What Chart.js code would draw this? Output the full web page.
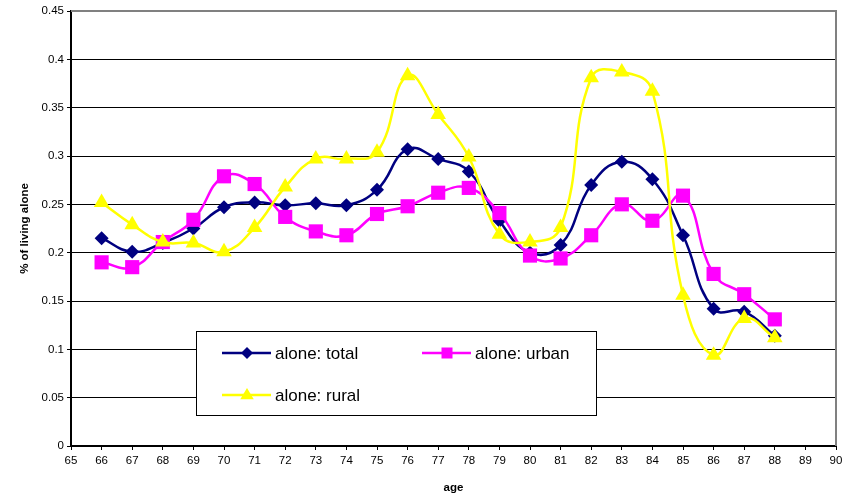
<!DOCTYPE html>
<html>
<head>
<meta charset="utf-8">
<script src="https://cdn.jsdelivr.net/npm/chart.js@4/dist/chart.umd.min.js"></script>
<style>
  html, body { margin: 0; padding: 0; background: #ffffff; }
  #wrap { width: 861px; height: 497px; position: relative; }
</style>
</head>
<body>
<div id="wrap"><canvas id="c" width="861" height="497"></canvas></div>
<script>
// Share of older people living alone, by age
const ages = [66, 67, 68, 69, 70, 71, 72, 73, 74, 75, 76, 77, 78, 79, 80, 81, 82, 83, 84, 85, 86, 87, 88];
const aloneTotal = [0.215, 0.201, 0.210, 0.225, 0.247, 0.252, 0.249, 0.251, 0.249, 0.265, 0.307, 0.297, 0.284,
                    0.233, 0.200, 0.208, 0.270, 0.294, 0.276, 0.218, 0.142, 0.139, 0.114];
const aloneUrban = [0.190, 0.185, 0.211, 0.234, 0.279, 0.271, 0.237, 0.222, 0.218, 0.240, 0.248, 0.262, 0.267,
                    0.241, 0.197, 0.194, 0.218, 0.250, 0.233, 0.259, 0.178, 0.157, 0.131];
const aloneRural = [0.252, 0.229, 0.211, 0.210, 0.201, 0.226, 0.268, 0.297, 0.297, 0.304, 0.383, 0.343, 0.299,
                    0.219, 0.211, 0.226, 0.381, 0.387, 0.367, 0.156, 0.094, 0.132, 0.112];
const seriesNames = ['alone: total', 'alone: urban', 'alone: rural'];
const yTickLabels = ['0', '0.05', '0.1', '0.15', '0.2', '0.25', '0.3', '0.35', '0.4', '0.45'];
const xTickLabels = ['65', '66', '67', '68', '69', '70', '71', '72', '73', '74', '75', '76', '77',
                     '78', '79', '80', '81', '82', '83', '84', '85', '86', '87', '88', '89', '90'];

const NAVY = '#000080', MAGENTA = '#FF00FF', YELLOW = '#FFFF00';
const FONT = 'Arial, "Liberation Sans", sans-serif';

const toPoints = vals => vals.map((v, i) => ({ x: ages[i], y: v }));

function marker(ctx, style, x, y, r, color) {
  ctx.save();
  ctx.fillStyle = color;
  ctx.beginPath();
  if (style === 'rectRot') {
    ctx.moveTo(x, y - r); ctx.lineTo(x + r, y); ctx.lineTo(x, y + r); ctx.lineTo(x - r, y);
  } else if (style === 'rect') {
    ctx.rect(x - r, y - r, 2 * r, 2 * r);
  } else {
    const h = r * 1.5;
    ctx.moveTo(x, y - h * 0.62); ctx.lineTo(x + r * 0.9, y + h * 0.38); ctx.lineTo(x - r * 0.9, y + h * 0.38);
  }
  ctx.closePath();
  ctx.fill();
  ctx.restore();
}

// Boxed legend drawn inside the plot area
const boxLegend = {
  id: 'boxLegend',
  afterDatasetsDraw(chart) {
    const ctx = chart.ctx;
    const box = { x: 196.5, y: 331.5, w: 400, h: 84 };
    ctx.save();
    ctx.fillStyle = '#ffffff';
    ctx.fillRect(box.x, box.y, box.w, box.h);
    ctx.strokeStyle = '#000000';
    ctx.lineWidth = 1;
    ctx.strokeRect(box.x, box.y, box.w, box.h);
    const items = [
      { name: seriesNames[0], color: NAVY, style: 'rectRot', r: 6, x: 222, y: 353 },
      { name: seriesNames[1], color: MAGENTA, style: 'rect', r: 5.5, x: 422, y: 353 },
      { name: seriesNames[2], color: YELLOW, style: 'triangle', r: 7.5, x: 222, y: 395 }
    ];
    ctx.font = '17px ' + FONT;
    ctx.textBaseline = 'middle';
    ctx.textAlign = 'left';
    items.forEach(it => {
      ctx.strokeStyle = it.color;
      ctx.lineWidth = 2.5;
      ctx.beginPath();
      ctx.moveTo(it.x, it.y);
      ctx.lineTo(it.x + 49, it.y);
      ctx.stroke();
      marker(ctx, it.style, it.x + 25, it.y, it.r, it.color);
      ctx.fillStyle = '#000000';
      ctx.fillText(it.name, it.x + 53, it.y + 1);
    });
    ctx.restore();
  }
};

// Grey frame on the top and right edges of the plot
const frame = {
  id: 'frame',
  beforeDatasetsDraw(chart) {
    const { ctx, chartArea: a } = chart;
    ctx.save();
    ctx.strokeStyle = '#808080';
    ctx.lineWidth = 2;
    ctx.beginPath();
    ctx.moveTo(a.left, a.top);
    ctx.lineTo(a.right, a.top);
    ctx.lineTo(a.right, a.bottom);
    ctx.stroke();
    ctx.restore();
  }
};

const lineDs = (label, vals, color, style, radius, order) => ({
  label,
  data: toPoints(vals),
  borderColor: color,
  backgroundColor: color,
  borderWidth: 2.5,
  pointStyle: style,
  pointRadius: radius,
  pointBorderWidth: 0,
  pointBackgroundColor: color,
  tension: 0.45,
  order
});

new Chart(document.getElementById('c'), {
  type: 'line',
  data: {
    datasets: [
      lineDs(seriesNames[0], aloneTotal, NAVY, 'rectRot', 7, 2),
      lineDs(seriesNames[1], aloneUrban, MAGENTA, 'rect', 10, 1),
      lineDs(seriesNames[2], aloneRural, YELLOW, 'triangle', 9, 0)
    ]
  },
  options: {
    responsive: false,
    animation: false,
    layout: { padding: { top: 11, right: 25, left: 0, bottom: 0 } },
    plugins: { legend: { display: false }, tooltip: { enabled: false } },
    scales: {
      x: {
        type: 'linear',
        min: 65, max: 90,
        afterFit(s) { s.height = 51; },
        afterBuildTicks(s) {
          s.ticks = xTickLabels.map(t => ({ value: Number(t) }));
        },
        ticks: {
          stepSize: 1,
          autoSkip: false,
          maxRotation: 0,
          padding: 4,
          color: '#000000',
          font: { family: FONT, size: 11.5 },
          callback: (v) => xTickLabels[v - 65]
        },
        grid: { drawOnChartArea: false, drawTicks: true, tickLength: 4, color: '#000000', lineWidth: 1 },
        border: { color: '#000000', width: 2 },
        title: { display: true, text: 'age', color: '#000000', font: { family: FONT, size: 11.5, weight: 'bold' }, padding: { top: 0, bottom: 2 } }
      },
      y: {
        min: 0, max: 0.45,
        afterFit(s) { s.width = 71; },
        afterBuildTicks(s) {
          s.ticks = yTickLabels.map(t => ({ value: Number(t) }));
        },
        ticks: {
          padding: 3,
          color: '#000000',
          font: { family: FONT, size: 11.5 },
          callback: (v) => yTickLabels[Math.round(v / 0.05)]
        },
        grid: { color: '#000000', lineWidth: 1, tickLength: 4, tickColor: '#000000' },
        border: { color: '#000000', width: 2 },
        title: { display: true, text: '% of living alone', color: '#000000', font: { family: FONT, size: 11.5, weight: 'bold' }, padding: { top: 18, bottom: 0 } }
      }
    }
  },
  plugins: [frame, boxLegend]
});
</script>
</body>
</html>
